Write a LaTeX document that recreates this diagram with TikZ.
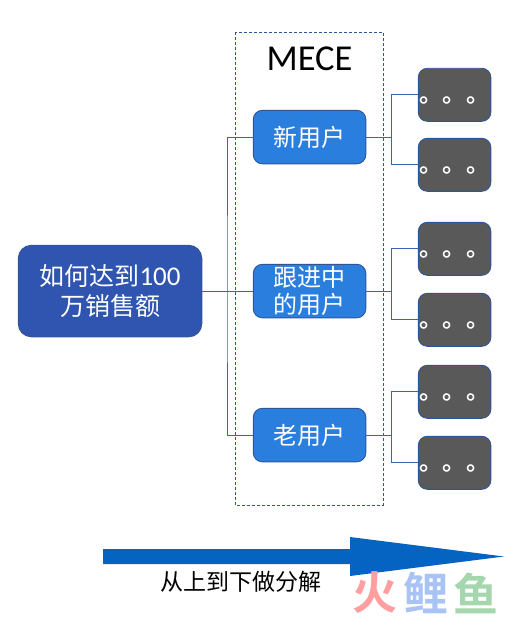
\documentclass[tikz,border=0pt]{standalone}
\usepackage{fontspec}
\setmainfont{Carlito}
\newfontfamily\cjk{Noto Sans CJK SC}
\newfontfamily\cjkb{Noto Sans CJK SC}[BoldFont={Noto Sans CJK SC Bold}]
\definecolor{rootblue}{HTML}{2F55B0}
\definecolor{midblue}{HTML}{2A7FDE}
\definecolor{edgeblue}{HTML}{2F5597}
\definecolor{linkblue}{HTML}{3F62AE}
\definecolor{leafgrey}{HTML}{595959}
\definecolor{arrowblue}{HTML}{0563C1}
\definecolor{wmred}{HTML}{FF9E9E}
\definecolor{wmblue}{HTML}{AAC3F5}
\definecolor{wmgreen}{HTML}{A5D6AE}
\tikzset{
  x=1pt,y=-1pt,
  box/.style={draw=edgeblue,line width=0.9pt,rounded corners=#1,inner sep=0pt,outer sep=0pt,align=center,anchor=north west,text=white},
  rootbox/.style={box=13pt,fill=rootblue,minimum width=183.5pt,minimum height=91.5pt},
  midbox/.style={box=9pt,fill=midblue,minimum width=112.5pt,minimum height=53.5pt},
  leafbox/.style={box=9pt,fill=leafgrey,minimum width=72.5pt,minimum height=53pt,text=white},
  link/.style={draw=linkblue,line width=0.9pt},
  wm/.style={font=\fontsize{45}{48}\selectfont\cjkb\bfseries},
}
\newcommand{\dotsrow}{\raisebox{-7.5pt}[0pt][0pt]{\fontsize{23.5}{26}\selectfont\cjkb\bfseries 。。。}}
\begin{document}
\begin{tikzpicture}
\useasboundingbox (0,0) rectangle (522,618);
\draw[edgeblue,line width=0.8pt,dash pattern=on 3pt off 2pt] (235,32) rectangle (383,505);
\node[anchor=center,text=black,font=\fontsize{36.5}{40}\selectfont] (mece) at (309.5,59) {MECE};
\node[rootbox,font=\fontsize{25}{30}\selectfont] (root) at (18.3,245.3) {{\cjk 如何达到}{\fontsize{27}{30}\selectfont 100}\\{\cjk 万销售额}};
\node[midbox,font=\fontsize{24}{27}\selectfont\cjk] (m1) at (253.3,110.3) {新用户};
\node[midbox,font=\fontsize{24}{27}\selectfont\cjk] (m2) at (253.3,264.3) {跟进中\\的用户};
\node[midbox,font=\fontsize{24}{27}\selectfont\cjk] (m3) at (253.3,408.3) {老用户};
\node[leafbox] (l1) at (418.3,68.3) {\dotsrow};
\node[leafbox] (l2) at (418.3,138.3) {\dotsrow};
\node[leafbox] (l3) at (418.3,222.3) {\dotsrow};
\node[leafbox] (l4) at (418.3,293.3) {\dotsrow};
\node[leafbox] (l5) at (418.3,365.3) {\dotsrow};
\node[leafbox] (l6) at (418.3,436.3) {\dotsrow};
\coordinate (bus) at (227,291);
\coordinate (busr) at (391,0);
\draw[link] (root.east) -- (m2.west);
\draw[link] (m1.west) -| (bus) |- (m3.west);
\foreach \m/\a/\b in {m1/l1/l2,m2/l3/l4,m3/l5/l6}{
  \draw[link] (\m.east) -- (\m.east -| busr);
  \draw[link] (\a.west) -| (\a.west -| busr) -- (\b.west -| busr) -- (\b.west);
}
\fill[arrowblue] (103,549) -- (350,549) -- (350,537) -- (504,556.5) -- (350,576) -- (350,564) -- (103,564) -- cycle;
\node[text=black,font=\fontsize{23}{26}\selectfont\cjk] (cap) at (241,582) {从上到下做分解};
\node[text=wmred,wm] (w1) at (375,593) {火};
\node[text=wmblue,wm] (w2) at (426,593) {鲤};
\node[text=wmgreen,wm] (w3) at (476,593) {鱼};
\end{tikzpicture}
\end{document}
